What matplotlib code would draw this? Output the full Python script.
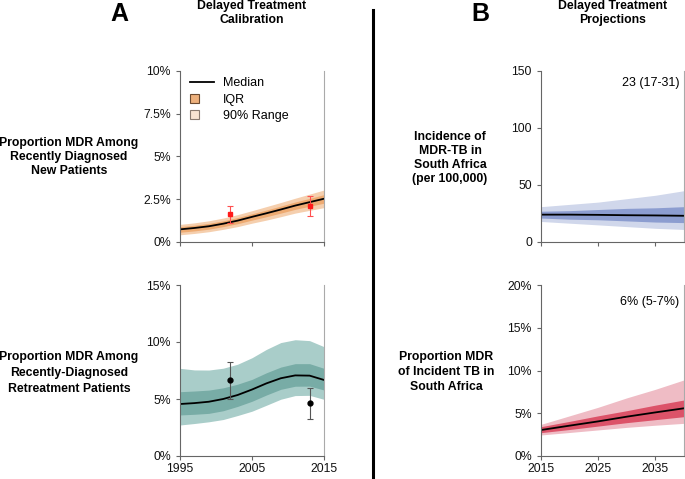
import matplotlib
matplotlib.use('Agg')
import matplotlib.pyplot as plt
from matplotlib.patches import Rectangle, Patch
from matplotlib.lines import Line2D
from matplotlib.legend_handler import HandlerPatch
from matplotlib.ticker import FuncFormatter

plt.rcParams['font.family'] = ['Liberation Sans', 'DejaVu Sans']

# A, top: proportion MDR among new patients (%)
yrs_cal = [1995, 1997, 1999, 2001, 2003, 2005, 2007, 2009, 2011, 2013, 2015]
new_med = [0.74, 0.82, 0.92, 1.07, 1.25, 1.47, 1.68, 1.90, 2.13, 2.33, 2.53]
new_p95 = [1.03, 1.12, 1.24, 1.40, 1.60, 1.83, 2.07, 2.31, 2.56, 2.80, 3.04]
new_p05 = [0.42, 0.50, 0.60, 0.74, 0.90, 1.10, 1.28, 1.48, 1.69, 1.85, 2.01]
new_q75 = [0.90, 0.98, 1.09, 1.24, 1.43, 1.65, 1.87, 2.10, 2.34, 2.55, 2.77]
new_q25 = [0.57, 0.65, 0.75, 0.90, 1.07, 1.28, 1.48, 1.69, 1.91, 2.09, 2.27]
new_obs_x = [2002, 2013]
new_obs_y = [1.62, 2.10]
new_obs_lo = [1.13, 1.52]
new_obs_hi = [2.10, 2.69]

# A, bottom: proportion MDR among retreatment patients (%)
ret_med = [4.56, 4.64, 4.76, 5.00, 5.35, 5.83, 6.37, 6.82, 7.07, 7.05, 6.67]
ret_p95 = [7.69, 7.55, 7.54, 7.70, 8.05, 8.62, 9.35, 9.95, 10.20, 10.12, 9.59]
ret_p05 = [2.72, 2.85, 3.00, 3.20, 3.55, 3.93, 4.45, 4.98, 5.30, 5.32, 4.97]
ret_q75 = [5.64, 5.70, 5.78, 5.98, 6.30, 6.72, 7.30, 7.80, 8.10, 8.10, 7.69]
ret_q25 = [3.60, 3.66, 3.74, 3.97, 4.35, 4.80, 5.35, 5.85, 6.12, 6.13, 5.79]
ret_obs_x = [2002, 2013]
ret_obs_y = [6.64, 4.62]
ret_obs_lo = [4.97, 3.25]
ret_obs_hi = [8.22, 5.99]

# B: projections
yrs_proj = [2015, 2020, 2025, 2030, 2035, 2040]
inc_med = [24.0, 24.0, 23.8, 23.5, 23.3, 23.0]
inc_p95 = [31, 33, 35, 38, 41, 45]
inc_p05 = [18, 16.5, 15, 13.5, 12, 11]
inc_q75 = [27, 27.5, 28.5, 29.5, 30, 31]
inc_q25 = [21, 20, 19.5, 18.5, 17.5, 17]

prop_med = [3.04, 3.55, 4.05, 4.60, 5.10, 5.58]
prop_p95 = [3.70, 4.70, 5.70, 6.80, 7.80, 8.90]
prop_p05 = [2.46, 2.75, 3.05, 3.35, 3.60, 3.82]
prop_q75 = [3.43, 4.05, 4.70, 5.30, 5.95, 6.55]
prop_q25 = [2.73, 3.10, 3.50, 3.90, 4.25, 4.60]


class SquareHandler(HandlerPatch):
    def create_artists(self, legend, orig_handle, xdescent, ydescent,
                       width, height, fontsize, trans):
        s = height * 1.05
        p = Rectangle((-xdescent, -ydescent), s, s,
                      facecolor=orig_handle.get_facecolor(),
                      edgecolor=orig_handle.get_edgecolor(),
                      lw=0.8, transform=trans)
        return [p]


def style(ax, xlim, ylim, yticks, fmt, xticks, show_xlabels):
    ax.set_xlim(*xlim)
    ax.set_ylim(*ylim)
    ax.set_yticks(yticks)
    ax.yaxis.set_major_formatter(FuncFormatter(fmt))
    ax.set_xticks(xticks)
    if not show_xlabels:
        ax.set_xticklabels([])
    ax.spines['top'].set_visible(False)
    ax.spines['left'].set_color('#666666')
    ax.spines['bottom'].set_color('#666666')
    ax.spines['right'].set_color('#aaaaaa')
    for s in ax.spines.values():
        s.set_linewidth(0.8)
    ax.tick_params(direction='out', length=3, width=0.8, color='#666666',
                   labelsize=8.8, labelcolor='#111111')
    ax.tick_params(axis='y', pad=3.5)
    ax.tick_params(axis='x', pad=2)


def bands(ax, x, p05, p95, q25, q75, med, light, dark):
    ax.fill_between(x, p05, p95, color=light, lw=0)
    ax.fill_between(x, q25, q75, color=dark, lw=0)
    ax.plot(x, med, color='black', lw=1.3)


def pct(v, pos):
    return '{:g}%'.format(v)


fig = plt.figure(figsize=(6.85, 4.79), dpi=100)
W, H = 685.0, 479.0


def axes_px(x0, x1, y0, y1):
    return fig.add_axes([x0 / W, 1 - y1 / H, (x1 - x0) / W, (y1 - y0) / H])


ax1 = axes_px(180, 324, 71, 242)
ax2 = axes_px(180, 324, 285, 456)
ax3 = axes_px(541, 684, 71, 242)
ax4 = axes_px(541, 684, 285, 456)

# A top
bands(ax1, yrs_cal, new_p05, new_p95, new_q25, new_q75, new_med, '#f5cfae', '#eeab72')
ax1.errorbar(new_obs_x, new_obs_y,
             yerr=[[a - b for a, b in zip(new_obs_y, new_obs_lo)],
                   [b - a for a, b in zip(new_obs_y, new_obs_hi)]],
             fmt='s', color='#ff1a1a', ecolor='#ff5050', ms=3.5, capsize=2.5, elinewidth=0.8,
             capthick=0.8)
style(ax1, (1995, 2015), (0, 10), [0, 2.5, 5, 7.5, 10], pct, [1995, 2005, 2015], False)
handles = [Line2D([], [], color='black', lw=1.3),
           Patch(facecolor='#edb07c', edgecolor='#6b4a30'),
           Patch(facecolor='#f9e3d2', edgecolor='#8a7a70')]
ax1.legend(handles, ['Median', 'IQR', '90% Range'], loc='upper left',
           bbox_to_anchor=(0.07, 0.965), frameon=False, fontsize=9,
           handlelength=1.9, handletextpad=0.75, labelspacing=0.38,
           borderpad=0, borderaxespad=0,
           handler_map={Patch: SquareHandler()})

# A bottom
bands(ax2, yrs_cal, ret_p05, ret_p95, ret_q25, ret_q75, ret_med, '#a9cdc9', '#78aca6')
ax2.errorbar(ret_obs_x, ret_obs_y,
             yerr=[[a - b for a, b in zip(ret_obs_y, ret_obs_lo)],
                   [b - a for a, b in zip(ret_obs_y, ret_obs_hi)]],
             fmt='o', color='black', ecolor='#555555', ms=3.5, capsize=2.5, elinewidth=0.8,
             capthick=0.8)
style(ax2, (1995, 2015), (0, 15), [0, 5, 10, 15], pct, [1995, 2005, 2015], True)

# B top
bands(ax3, yrs_proj, inc_p05, inc_p95, inc_q25, inc_q75, inc_med, '#d0d7eb', '#8c9dd0')
style(ax3, (2015, 2040), (0, 150), [0, 50, 100, 150], lambda v, p: '{:g}'.format(v),
      [2015, 2025, 2035], False)
ax3.text(0.967, 0.93, '23 (17-31)', transform=ax3.transAxes, ha='right', va='center',
         fontsize=9)

# B bottom
bands(ax4, yrs_proj, prop_p05, prop_p95, prop_q25, prop_q75, prop_med, '#efbcc5', '#dc5369')
style(ax4, (2015, 2040), (0, 20), [0, 5, 10, 15, 20], pct, [2015, 2025, 2035], True)
ax4.text(0.967, 0.902, '6% (5-7%)', transform=ax4.transAxes, ha='right', va='center',
         fontsize=9)

# headings and row labels
bold = dict(fontsize=8.8, fontweight='bold', ha='center', va='center')
fig.text(119 / W, 1 - 14 / H, 'A', fontsize=18, fontweight='bold', ha='center', va='center')
fig.text(480 / W, 1 - 14 / H, 'B', fontsize=18, fontweight='bold', ha='center', va='center')
fig.text(252 / W, 1 - 13 / H, 'Delayed Treatment\nCalibration', linespacing=1.3, **bold)
fig.text(613 / W, 1 - 13 / H, 'Delayed Treatment\nProjections', linespacing=1.3, **bold)
fig.text(69 / W, 1 - 157 / H, 'Proportion MDR Among\nRecently Diagnosed\nNew Patients',
         linespacing=1.2, **bold)
fig.text(69 / W, 1 - 373 / H, 'Proportion MDR Among\nRecently-Diagnosed\nRetreatment Patients',
         linespacing=1.45, **bold)
fig.text(450 / W, 1 - 158 / H, 'Incidence of\nMDR-TB in\nSouth Africa\n(per 100,000)',
         linespacing=1.25, **bold)
fig.text(446 / W, 1 - 372 / H, 'Proportion MDR\nof Incident TB in\nSouth Africa',
         linespacing=1.35, **bold)

# divider between A and B
fig.add_artist(Line2D([373 / W, 373 / W], [0, 1 - 10 / H], transform=fig.transFigure,
                      color='black', lw=2.2))

fig.savefig('out.png', dpi=100)
